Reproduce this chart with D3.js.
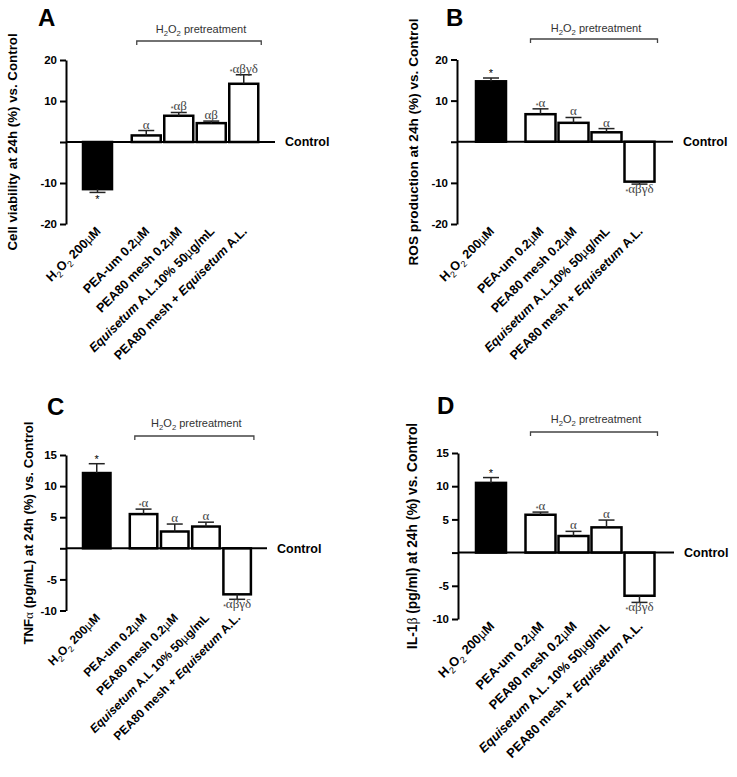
<!DOCTYPE html>
<html>
<head>
<meta charset="utf-8">
<script src="https://cdn.jsdelivr.net/npm/d3@7"></script>
<style>
  body { margin: 0; background: #fff; }
  svg { display: block; font-family: "Liberation Sans", Arial, sans-serif; }
</style>
</head>
<body>
<div id="chart"></div>
<script>
// Kategorien (~ = kursiv, _ = tiefgestellt, {} = Symbolschrift)
const labelsA = ["H_2O_2 200µM", "PEA-um 0.2µM", "PEA80 mesh 0.2µM", "~Equisetum~ A.L.10% 50µg/mL", "PEA80 mesh + ~Equisetum~ A.L."];
const labelsB = ["H_2O_2 200µM", "PEA-um 0.2µM", "PEA80 mesh 0.2µM", "~Equisetum~ A.L.10% 50µg/mL", "PEA80 mesh + ~Equisetum~ A.L."];
const labelsC = ["H_2O_2 200µM", "PEA-um 0.2µM", "PEA80 mesh 0.2µM", "~Equisetum~ A.L 10% 50µg/mL", "PEA80 mesh + ~Equisetum~ A.L."];
const labelsD = ["H_2O_2 200µM", "PEA-um 0.2µM", "PEA80 mesh 0.2µM", "~Equisetum~ A.L. 10% 50µg/mL", "PEA80 mesh + ~Equisetum~ A.L."];
const pretreated = [false, true, true, true, true];

// Werte (% vs. Control) und Fehler
const viability = [-11.5, 1.6, 6.4, 4.6, 14.2];
const viabilityErr = [0.8, 1.2, 0.8, 0.5, 2.2];
const ros = [14.7, 6.7, 4.6, 2.3, -9.7];
const rosErr = [0.8, 1.3, 1.3, 0.9, 0.6];
const tnf = [12.1, 5.5, 2.7, 3.5, -7.4];
const tnfErr = [1.5, 0.8, 1.2, 0.7, 0.8];
const il1b = [10.5, 5.7, 2.5, 3.8, -6.5];
const il1bErr = [0.8, 0.4, 0.7, 1.1, 1.0];

// Signifikanzen
const sigA = ["*", "α", "*αβ", "αβ", "*αβγδ"];
const sigB = ["*", "*α", "α", "α", "*αβγδ"];
const sigC = ["*", "*α", "α", "α", "*αβγδ"];
const sigD = ["*", "*α", "α", "α", "*αβγδ"];

// Achsen-Ticks
const ticks20 = [-20, -10, 0, 10, 20];
const ticks15 = [-10, -5, 0, 5, 10, 15];

const panels = [
    {letter: "A", ylabel: "Cell viability at 24h (%) vs. Control", cats: labelsA, values: viability, errors: viabilityErr, sig: sigA,
     ticks: ticks20, domain: [-20, 20], axisX: 66, yRange: [224, 60], x0: 82, step: 32.5, barW: 31, lineEnd: 275,
     letterPos: [38, 26], ylabelPos: [12, 142], ylabelSize: 13.3, labelSize: 12.6, bracketY: 41, bracketText: 33},
    {letter: "B", ylabel: "ROS production at 24h (%) vs. Control", cats: labelsB, values: ros, errors: rosErr, sig: sigB,
     ticks: ticks20, domain: [-20, 20], axisX: 457, yRange: [224, 59.5], x0: 475, step: 33, barW: 32, lineEnd: 673,
     letterPos: [446, 26], ylabelPos: [413, 142], ylabelSize: 13.6, labelSize: 12.6, bracketY: 39, bracketText: 32},
    {letter: "C", ylabel: "TNF{α} (pg/mL) at 24h (%) vs. Control", cats: labelsC, values: tnf, errors: tnfErr, sig: sigC,
     ticks: ticks15, domain: [-10, 15], axisX: 66, yRange: [610.5, 455], x0: 82, step: 31.2, barW: 29.5, lineEnd: 267,
     letterPos: [47, 415], ylabelPos: [28, 533], ylabelSize: 13.2, labelSize: 12, bracketY: 436, bracketText: 427},
    {letter: "D", ylabel: "IL-1{β} (pg/ml) at 24h (%) vs. Control", cats: labelsD, values: il1b, errors: il1bErr, sig: sigD,
     ticks: ticks15, domain: [-10, 15], axisX: 458, yRange: [619, 453], x0: 475, step: 33, barW: 32, lineEnd: 674,
     letterPos: [437, 414], ylabelPos: [412, 536], ylabelSize: 13.8, labelSize: 12.9, bracketY: 432, bracketText: 423}
];

// Text mit Formatierung in tspans zerlegen
function richText(sel, str, size) {
    let italic = false, serif = false, pendingDy = 0, i = 0;
    const add = (txt, opts = {}) => {
        const t = sel.append("tspan").text(txt);
        if (italic) t.attr("font-style", "italic");
        if (serif || opts.serif) t.attr("font-family", "'Liberation Serif', serif").attr("font-weight", "normal");
        if (opts.normal) t.attr("font-weight", "normal");
        if (opts.size) t.attr("font-size", opts.size);
        let dy = pendingDy + (opts.dy || 0);
        if (dy) t.attr("dy", dy);
        pendingDy = -(opts.dy || 0);
    };
    while (i < str.length) {
        const c = str[i];
        if (c === "~") { italic = !italic; i++; continue; }
        if (c === "{") { serif = true; i++; continue; }
        if (c === "}") { serif = false; i++; continue; }
        if (c === "_") { add(str[i + 1], {size: size * 0.7, dy: size * 0.28, normal: true}); i += 2; continue; }
        if (c === "µ") { add("µ", {normal: true}); i++; continue; }
        let j = i;
        while (j < str.length && !"~{}_µ".includes(str[j])) j++;
        add(str.slice(i, j));
        i = j;
    }
}

const svg = d3.select("#chart").append("svg")
    .attr("width", 737)
    .attr("height", 777)
    .attr("viewBox", [0, 0, 737, 777]);

svg.append("rect").attr("width", 737).attr("height", 777).attr("fill", "#fff");

panels.forEach(p => {
    const g = svg.append("g");
    const y = d3.scaleLinear().domain(p.domain).range(p.yRange);
    const xs = d3.scaleLinear().domain([0, 1]).range([p.x0, p.x0 + p.step]);
    const slot = i => i + (i > 0 ? 0.5 : 0);
    const data = p.values.map((v, i) => ({v, e: p.errors[i], s: p.sig[i], cat: p.cats[i], pre: pretreated[i], i}));
    const left = d => xs(slot(d.i));
    const cx = d => left(d) + p.barW / 2;

    // Y-Achse
    const axis = g.append("g")
        .attr("transform", `translate(${p.axisX},0)`)
        .call(d3.axisLeft(y).tickValues(p.ticks).tickSize(6).tickSizeOuter(0).tickPadding(3)
            .tickFormat(d => d === 0 ? "" : d));
    axis.selectAll("path, line").attr("stroke", "#000").attr("stroke-width", 2);
    axis.selectAll("text").attr("font-size", 11.5).attr("font-weight", "bold")
        .attr("font-family", "'Liberation Sans', Arial, sans-serif").attr("fill", "#000");

    // Balken
    g.selectAll(".bar")
        .data(data)
        .join("rect")
        .attr("class", "bar")
        .attr("x", d => left(d) + 1)
        .attr("width", p.barW - 2)
        .attr("y", d => y(Math.max(0, d.v)))
        .attr("height", d => Math.abs(y(d.v) - y(0)))
        .attr("fill", d => d.pre ? "#fff" : "#000")
        .attr("stroke", "#000")
        .attr("stroke-width", 2.5);

    // Fehlerbalken
    const errEnd = d => y(d.v >= 0 ? d.v + d.e : d.v - d.e);
    g.selectAll(".err")
        .data(data)
        .join("line")
        .attr("x1", cx).attr("x2", cx)
        .attr("y1", d => y(d.v)).attr("y2", errEnd)
        .attr("stroke", "#222").attr("stroke-width", 1.5);
    g.selectAll(".cap")
        .data(data)
        .join("line")
        .attr("x1", d => cx(d) - 8).attr("x2", d => cx(d) + 8)
        .attr("y1", errEnd).attr("y2", errEnd)
        .attr("stroke", "#222").attr("stroke-width", 1.5);

    // Control-Linie
    g.append("line")
        .attr("x1", p.axisX).attr("x2", p.lineEnd)
        .attr("y1", y(0)).attr("y2", y(0))
        .attr("stroke", "#000").attr("stroke-width", 2);
    g.append("text")
        .attr("x", p.lineEnd + 10).attr("y", y(0)).attr("dy", "0.35em")
        .attr("font-size", 12.5).attr("font-weight", "bold")
        .text("Control");

    // Signifikanz-Zeichen
    g.selectAll(".sig")
        .data(data)
        .join("text")
        .attr("class", "sig")
        .attr("text-anchor", "middle")
        .attr("x", cx)
        .attr("y", d => d.v >= 0 ? errEnd(d) - 2 : errEnd(d) + 9)
        .each(function(d) {
            const t = d3.select(this);
            if (d.s === "*") {
                t.append("tspan").text("*").attr("font-size", 11).attr("fill", "#000")
                    .attr("dy", d.v >= 0 ? 1 : 2);
                return;
            }
            let rest = d.s;
            const serifSpan = s => s.attr("font-family", "'Liberation Serif', serif").attr("font-size", 13).attr("fill", "#444");
            if (rest[0] === "*") {
                t.append("tspan").text("*").attr("font-size", 7).attr("fill", "#444").attr("dy", 1);
                rest = rest.slice(1);
                serifSpan(t.append("tspan").text(rest).attr("dy", -1));
            } else {
                serifSpan(t.append("tspan").text(rest));
            }
        });

    // X-Beschriftungen
    const bottom = p.yRange[0];
    g.selectAll(".xlab")
        .data(data)
        .join("text")
        .attr("class", "xlab")
        .attr("text-anchor", "end")
        .attr("font-size", p.labelSize)
        .attr("font-weight", "bold")
        .attr("transform", d => `translate(${cx(d) + 4},${bottom + 8}) rotate(-45)`)
        .each(function(d) { richText(d3.select(this), d.cat, p.labelSize); });

    // Y-Beschriftung
    const yl = g.append("text")
        .attr("text-anchor", "middle")
        .attr("font-size", p.ylabelSize)
        .attr("font-weight", "bold")
        .attr("transform", `translate(${p.ylabelPos[0] + 5},${p.ylabelPos[1]}) rotate(-90)`);
    richText(yl, p.ylabel, p.ylabelSize);

    // Panel-Buchstabe
    g.append("text")
        .attr("x", p.letterPos[0]).attr("y", p.letterPos[1])
        .attr("font-size", 24).attr("font-weight", "bold")
        .text(p.letter);

    // Klammer "H2O2 pretreatment"
    const pre = data.filter(d => d.pre);
    const bx1 = left(pre[0]) + 6;
    const bx2 = left(pre[pre.length - 1]) + p.barW + 2;
    g.append("path")
        .attr("d", `M${bx1},${p.bracketY + 4}V${p.bracketY}H${bx2}V${p.bracketY + 4}`)
        .attr("fill", "none").attr("stroke", "#444").attr("stroke-width", 1.3);
    const bt = g.append("text")
        .attr("x", (bx1 + bx2) / 2 + 2).attr("y", p.bracketText)
        .attr("text-anchor", "middle")
        .attr("font-size", 11).attr("fill", "#333");
    richText(bt, "H_2O_2 pretreatment", 11);
});
</script>
</body>
</html>
